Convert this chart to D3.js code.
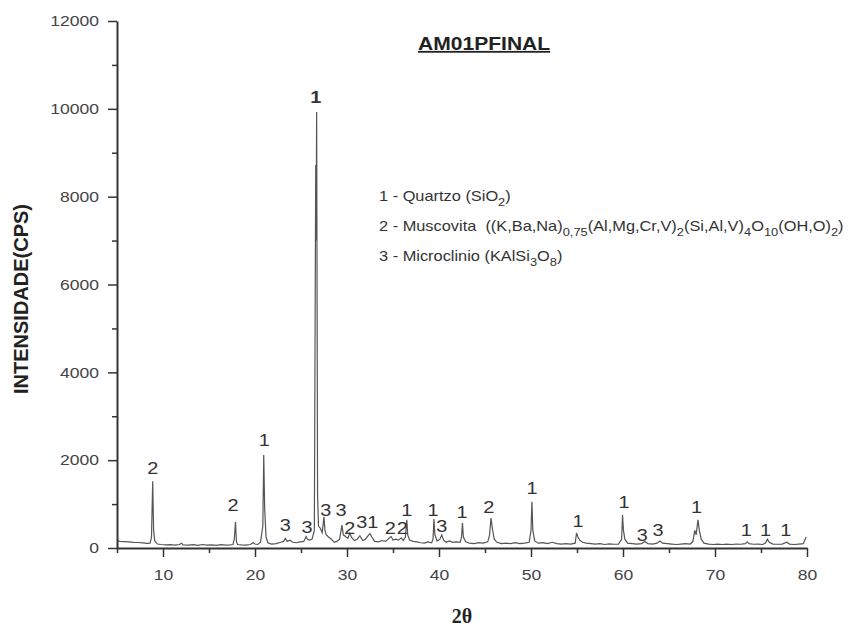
<!DOCTYPE html>
<html>
<head>
<meta charset="utf-8">
<script src="https://cdnjs.cloudflare.com/ajax/libs/d3/7.8.5/d3.min.js"></script>
<style>
body { margin:0; background:#fff; }
svg text { font-family: "Liberation Sans", Arial, sans-serif; white-space: pre; }
</style>
</head>
<body>
<svg id="chart" width="852" height="629"></svg>
<script>
// diffractogram: [2theta, cps]
let pattern = [
[5.0,170],[5.3,150],[5.8,145],[6.3,140],[6.8,130],[7.3,125],[7.8,115],[8.3,105],[8.6,110],[8.75,250],[8.88,1520],[8.98,400],[9.1,160],[9.4,90],[9.8,80],[10.3,70],[10.8,75],[11.3,65],[11.8,80],[12.0,110],[12.2,70],[12.8,65],[13.3,75],[13.8,60],[14.3,80],[14.8,65],[15.3,70],[15.8,60],[16.3,75],[16.8,65],[17.3,70],[17.6,80],[17.75,200],[17.88,590],[17.98,150],[18.1,80],[18.5,70],[19.0,65],[19.5,80],[19.8,120],[20.0,90],[20.3,80],[20.6,130],[20.85,500],[20.95,2120],[21.05,900],[21.2,250],[21.4,120],[21.8,90],[22.3,100],[22.8,130],[23.1,150],[23.3,220],[23.5,150],[23.8,180],[24.1,130],[24.5,120],[24.9,140],[25.3,150],[25.55,260],[25.7,200],[25.9,180],[26.2,200],[26.45,400],[26.6,8720],[26.64,7000],[26.7,9930],[26.8,1200],[26.9,500],[27.1,450],[27.3,350],[27.5,710],[27.6,400],[27.75,300],[28.0,250],[28.3,200],[28.6,130],[28.9,150],[29.2,200],[29.45,520],[29.6,300],[29.9,250],[30.1,220],[30.3,340],[30.5,240],[30.8,170],[31.1,200],[31.4,280],[31.7,170],[32.0,200],[32.3,280],[32.5,330],[32.7,250],[33.0,150],[33.4,140],[33.8,170],[34.2,150],[34.6,230],[34.8,260],[35.0,180],[35.3,200],[35.6,180],[35.9,230],[36.1,170],[36.35,250],[36.5,640],[36.6,300],[36.8,180],[37.2,150],[37.6,140],[38.0,120],[38.4,110],[38.8,140],[39.2,120],[39.35,200],[39.45,660],[39.55,300],[39.8,160],[40.1,200],[40.3,300],[40.5,180],[40.8,130],[41.1,160],[41.5,130],[41.9,140],[42.3,130],[42.45,250],[42.55,570],[42.65,250],[42.9,140],[43.3,110],[43.8,100],[44.3,120],[44.8,110],[45.3,140],[45.5,300],[45.65,680],[45.8,450],[46.0,200],[46.3,130],[46.8,100],[47.3,110],[47.8,100],[48.3,120],[48.8,100],[49.3,110],[49.8,130],[50.0,400],[50.1,1050],[50.2,400],[50.4,160],[50.8,110],[51.3,120],[51.8,100],[52.3,130],[52.8,100],[53.3,90],[53.8,100],[54.3,90],[54.8,110],[54.95,340],[55.1,250],[55.3,180],[55.6,130],[56.0,110],[56.5,100],[57.0,90],[57.5,100],[58.0,80],[58.5,95],[59.0,85],[59.5,90],[59.85,200],[59.95,750],[60.05,400],[60.2,200],[60.5,110],[61.0,100],[61.5,90],[62.0,100],[62.4,150],[62.7,100],[63.2,90],[63.7,110],[64.0,160],[64.3,110],[64.8,100],[65.3,90],[65.8,80],[66.3,90],[66.8,100],[67.3,90],[67.6,150],[67.8,400],[67.95,300],[68.15,640],[68.3,400],[68.5,200],[68.8,110],[69.3,90],[69.8,80],[70.3,90],[70.8,80],[71.3,90],[71.8,80],[72.3,90],[72.8,85],[73.3,100],[73.5,140],[73.7,100],[74.2,85],[74.7,90],[75.2,80],[75.5,120],[75.7,200],[75.9,130],[76.3,90],[76.8,85],[77.3,90],[77.8,130],[78.1,90],[78.6,80],[79.1,90],[79.6,100],[79.9,250]
];

// phase labels: [2theta, cps, phase]
let peakLabels = [
[8.9,1820,"2"],[17.6,980,"2"],[21.0,2460,"1"],[23.3,520,"3"],[25.65,480,"3"],[26.6,10270,"1"],
[27.7,870,"3"],[29.35,870,"3"],[30.3,460,"2"],[31.6,590,"3"],[32.8,590,"1"],[34.7,460,"2"],
[36.0,460,"2"],[36.5,870,"1"],[39.35,870,"1"],[40.3,500,"3"],[42.5,820,"1"],[45.4,930,"2"],
[50.1,1370,"1"],[55.1,620,"1"],[60.1,1050,"1"],[62.1,300,"3"],[63.8,410,"3"],[68.0,930,"1"],
[73.4,410,"1"],[75.5,410,"1"],[77.7,410,"1"]
];

let xMajor = [10,20,30,40,50,60,70,80];
let xMinor = [5,15,25,35,45,55,65,75];
let yMajor = [0,2000,4000,6000,8000,10000,12000];
let yMinor = [1000,3000,5000,7000,9000,11000];

// legend rows, [text, isSubscript]
let legendRows = [
 [["1 - Quartzo (SiO",0],["2",1],[")",0]],
 [["2 - Muscovita  ((K,Ba,Na)",0],["0,75",1],["(Al,Mg,Cr,V)",0],["2",1],["(Si,Al,V)",0],["4",1],["O",0],["10",1],["(OH,O)",0],["2",1],[")",0]],
 [["3 - Microclinio (KAlSi",0],["3",1],["O",0],["8",1],[")",0]]
];

let sx = 1.17; // text in the picture is a bit wide
let svg = d3.select("#chart");
let x = d3.scaleLinear().domain([5,80]).range([117,807]);
let y = d3.scaleLinear().domain([0,12000]).range([548,21]);

let line = d3.line().x(d=>x(d[0])).y(d=>y(d[1]));
svg.append("path")
  .datum(pattern)
  .attr("d",line)
  .attr("fill","none")
  .attr("stroke","#555")
  .attr("stroke-width",1.2);

function styleAxis(g) {
  g.select(".domain").attr("stroke","#333").attr("stroke-width",2);
  g.selectAll(".tick line").attr("stroke","#333").attr("stroke-width",1.5);
}

let gx = svg.append("g").attr("transform","translate(0,548)")
  .call(d3.axisBottom(x).tickValues(xMajor).tickSize(9).tickSizeOuter(0).tickPadding(12));
styleAxis(gx);
gx.selectAll("text").attr("font-size",15).attr("fill","#444")
  .attr("transform",`scale(${sx},1)`);
svg.append("g").attr("transform","translate(0,548)")
  .call(d3.axisBottom(x).tickValues(xMinor).tickSize(5).tickSizeOuter(0).tickFormat(""))
  .call(g=>{g.select(".domain").remove(); g.selectAll("line").attr("stroke","#333").attr("stroke-width",1.5);});

let gy = svg.append("g").attr("transform","translate(117,0)")
  .call(d3.axisLeft(y).tickValues(yMajor).tickSize(9).tickSizeOuter(0).tickFormat(d3.format("d")));
styleAxis(gy);
gy.selectAll("text").attr("font-size",15).attr("fill","#444")
  .attr("x",-18/sx).attr("transform",`scale(${sx},1)`);
svg.append("g").attr("transform","translate(117,0)")
  .call(d3.axisLeft(y).tickValues(yMinor).tickSize(5).tickSizeOuter(0).tickFormat(""))
  .call(g=>{g.select(".domain").remove(); g.selectAll("line").attr("stroke","#333").attr("stroke-width",1.5);});

// peak labels
svg.append("g").selectAll("text")
  .data(peakLabels)
  .enter()
  .append("text")
  .attr("transform",d=>`translate(${x(d[0])},${y(d[1])}) scale(${sx},1)`)
  .attr("dy","0.35em")
  .attr("text-anchor","middle")
  .attr("font-size",17)
  .attr("font-weight",d=>d[1]>5000?"bold":"normal")
  .attr("fill","#333")
  .text(d=>d[2]);

// title
svg.append("text")
  .attr("transform",`translate(418,50) scale(${sx},1)`)
  .attr("font-size",18)
  .attr("font-weight","bold")
  .attr("fill","#222")
  .attr("text-decoration","underline")
  .text("AM01PFINAL");

// legend
legendRows.forEach((row,i)=>{
  let t = svg.append("text")
    .attr("transform",`translate(379,${201+i*30}) scale(${sx},1)`)
    .attr("font-size",14)
    .attr("fill","#333");
  let shifted = false;
  row.forEach(seg=>{
    let dy = 0;
    if(seg[1] && !shifted) { dy = 5; shifted = true; }
    else if(!seg[1] && shifted) { dy = -5; shifted = false; }
    t.append("tspan")
      .attr("dy",dy)
      .attr("font-size",seg[1]?11:14)
      .text(seg[0]);
  });
});

// axis titles
svg.append("text")
  .attr("transform","translate(28,299) rotate(-90)")
  .attr("text-anchor","middle")
  .attr("font-size",20)
  .attr("font-weight","bold")
  .attr("fill","#222")
  .text("INTENSIDADE(CPS)");

svg.append("text")
  .attr("transform","translate(462,623)")
  .attr("text-anchor","middle")
  .attr("font-size",20)
  .attr("font-weight","bold")
  .attr("fill","#222")
  .style("font-family","'Liberation Serif', 'Times New Roman', serif")
  .text("2θ");
</script>
</body>
</html>
